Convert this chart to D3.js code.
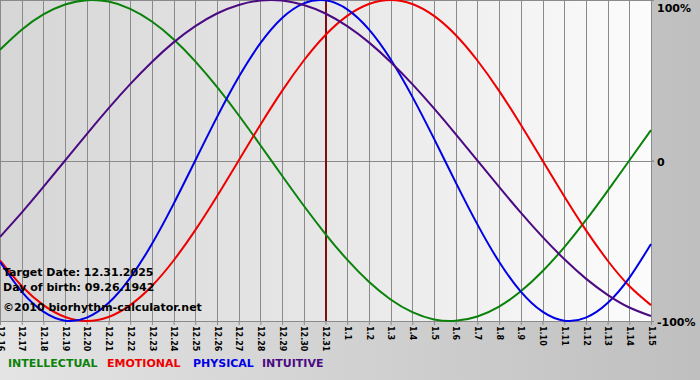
<!DOCTYPE html>
<html>
<head>
<meta charset="utf-8">
<script src="https://cdnjs.cloudflare.com/ajax/libs/d3/7.8.5/d3.min.js"></script>
<style>
body { margin: 0; }
svg { display: block; font-family: Verdana, "DejaVu Sans", sans-serif; }
</style>
</head>
<body>
<script>
//days shown on the x axis
var dates = ["12.16", "12.17", "12.18", "12.19", "12.20", "12.21", "12.22", "12.23", "12.24", "12.25",
    "12.26", "12.27", "12.28", "12.29", "12.30", "12.31", "1.1", "1.2", "1.3", "1.4", "1.5", "1.6",
    "1.7", "1.8", "1.9", "1.10", "1.11", "1.12", "1.13", "1.14", "1.15"];

//cycle values per day, -1..1
var intellectual = [0.690, 0.815, 0.910, 0.972, 0.999, 0.990, 0.945, 0.866, 0.756, 0.618, 0.458,
    0.282, 0.095, -0.095, -0.282, -0.458, -0.618, -0.756, -0.866, -0.945, -0.990, -0.999, -0.972,
    -0.910, -0.815, -0.690, -0.541, -0.372, -0.189, 0.000, 0.189];
var emotional = [-0.623, -0.782, -0.901, -0.975, -1.000, -0.975, -0.901, -0.782, -0.623, -0.434,
    -0.223, 0.000, 0.223, 0.434, 0.623, 0.782, 0.901, 0.975, 1.000, 0.975, 0.901, 0.782, 0.623,
    0.434, 0.223, 0.000, -0.223, -0.434, -0.623, -0.782, -0.901];
var physical = [-0.631, -0.817, -0.942, -0.998, -0.979, -0.888, -0.731, -0.520, -0.270, 0.000,
    0.270, 0.520, 0.731, 0.888, 0.979, 0.998, 0.942, 0.817, 0.631, 0.398, 0.136, -0.136, -0.398,
    -0.631, -0.817, -0.942, -0.998, -0.979, -0.888, -0.731, -0.520];
var intuitive = [-0.476, -0.325, -0.165, 0.000, 0.165, 0.325, 0.476, 0.614, 0.736, 0.837, 0.916,
    0.969, 0.997, 0.997, 0.969, 0.916, 0.837, 0.736, 0.614, 0.476, 0.325, 0.165, 0.000, -0.165,
    -0.325, -0.476, -0.614, -0.736, -0.837, -0.916, -0.969];

var seriesNames = ["INTELLECTUAL", "EMOTIONAL", "PHYSICAL", "INTUITIVE"];
var yTicks = [1, 0, -1];
var yTickLabels = ["100%", "0", "-100%"];
var targetDay = "12.31";
var infoLines = ["Target Date: 12.31.2025", "Day of birth: 09.26.1942", "\u00a92010 biorhythm-calculator.net"];

//frame dimensions
var width = 700,
    height = 380,
    plotW = 651,
    plotH = 321;

var colors = ["#0a820a", "#ee0000", "#0000e6", "#4b0a82"];

var svg = d3.select("body")
    .append("svg")
    .attr("width", width)
    .attr("height", height);

//background gradients
var defs = svg.append("defs");
var outerGrad = defs.append("linearGradient")
    .attr("id", "outerGrad")
    .attr("x1", 0).attr("x2", 1).attr("y1", 0).attr("y2", 0);
outerGrad.append("stop").attr("offset", 0).attr("stop-color", "#e4e4e4");
outerGrad.append("stop").attr("offset", 1).attr("stop-color", "#bfbfbf");

var plotGrad = defs.append("linearGradient")
    .attr("id", "plotGrad")
    .attr("x1", 0).attr("x2", 1).attr("y1", 0).attr("y2", 0);
plotGrad.append("stop").attr("offset", 0).attr("stop-color", "#d6d6d6");
plotGrad.append("stop").attr("offset", 0.5).attr("stop-color", "#e7e7e7");
plotGrad.append("stop").attr("offset", 1).attr("stop-color", "#fcfcfc");

svg.append("rect")
    .attr("width", width)
    .attr("height", height)
    .attr("fill", "url(#outerGrad)");

svg.append("rect")
    .attr("width", plotW)
    .attr("height", plotH)
    .attr("fill", "url(#plotGrad)");

//scales
var x = d3.scalePoint()
    .domain(dates)
    .range([0, plotW]);

var y = d3.scaleLinear()
    .domain([-1, 1])
    .range([plotH, 0]);

//vertical day lines
svg.selectAll(".dayLine")
    .data(dates)
    .enter()
    .append("line")
    .attr("class", "dayLine")
    .attr("x1", function(d){ return Math.round(x(d)) + 0.5; })
    .attr("x2", function(d){ return Math.round(x(d)) + 0.5; })
    .attr("y1", 0)
    .attr("y2", plotH)
    .attr("stroke", "#8a8a8a");

//top border and zero line
svg.append("line")
    .attr("x1", 0).attr("x2", plotW)
    .attr("y1", 0.5).attr("y2", 0.5)
    .attr("stroke", "#8a8a8a");

svg.append("line")
    .attr("x1", 0).attr("x2", plotW + 3)
    .attr("y1", Math.round(y(0)) + 0.5).attr("y2", Math.round(y(0)) + 0.5)
    .attr("stroke", "#8a8a8a");

//x axis with rotated day labels
var xAxis = svg.append("g")
    .attr("transform", "translate(0," + plotH + ")")
    .call(d3.axisBottom(x).tickSize(4).tickSizeOuter(0));

xAxis.select(".domain").attr("stroke", "#8a8a8a");
xAxis.selectAll(".tick line").attr("stroke", "#8a8a8a");
xAxis.selectAll("text")
    .attr("x", 5)
    .attr("y", 0)
    .attr("dy", "0.35em")
    .attr("transform", "rotate(90)")
    .style("text-anchor", "start")
    .style("font-size", "8px")
    .style("font-weight", "bold")
    .attr("fill", "#000");
xAxis.attr("font-family", null).attr("font-size", null);

//y axis on the right
var yAxis = svg.append("g")
    .attr("transform", "translate(" + plotW + ",0)")
    .call(d3.axisRight(y).tickValues(yTicks).tickSize(3)
        .tickFormat(function(d, i){ return yTickLabels[i]; }));

yAxis.select(".domain").remove();
yAxis.selectAll(".tick line").attr("stroke", "#8a8a8a");
yAxis.selectAll("text")
    .attr("x", 6)
    .attr("dy", function(d){ return d === 1 ? "1.05em" : "0.45em"; })
    .style("font-size", "11px")
    .style("font-weight", "bold")
    .attr("fill", "#000");
yAxis.attr("font-family", null).attr("font-size", null);

//target day marker
svg.append("line")
    .attr("x1", x(targetDay) + 0.5).attr("x2", x(targetDay) + 0.5)
    .attr("y1", 0).attr("y2", plotH)
    .attr("stroke", "#7a1010")
    .attr("stroke-width", 2);

//cycle curves
var line = d3.line()
    .x(function(d, i){ return x(dates[i]); })
    .y(function(d){ return y(d); })
    .curve(d3.curveNatural);

var series = [intellectual, emotional, physical, intuitive];

svg.selectAll(".cycle")
    .data(series)
    .enter()
    .append("path")
    .attr("class", "cycle")
    .attr("d", line)
    .attr("fill", "none")
    .attr("stroke", function(d, i){ return colors[i]; })
    .attr("stroke-width", 2);

//info text
svg.selectAll(".info")
    .data(infoLines)
    .enter()
    .append("text")
    .attr("class", "info")
    .attr("x", 3)
    .attr("y", function(d, i){ return [276, 291, 311][i]; })
    .style("font-size", "11px")
    .style("font-weight", "bold")
    .text(function(d){ return d; });

//legend
var legendX = [8, 107, 193, 262];
svg.selectAll(".legend")
    .data(seriesNames)
    .enter()
    .append("text")
    .attr("class", "legend")
    .attr("x", function(d, i){ return legendX[i]; })
    .attr("y", 367)
    .attr("fill", function(d, i){ return colors[i]; })
    .style("font-size", "11px")
    .style("font-weight", "bold")
    .text(function(d){ return d; });
</script>
</body>
</html>
